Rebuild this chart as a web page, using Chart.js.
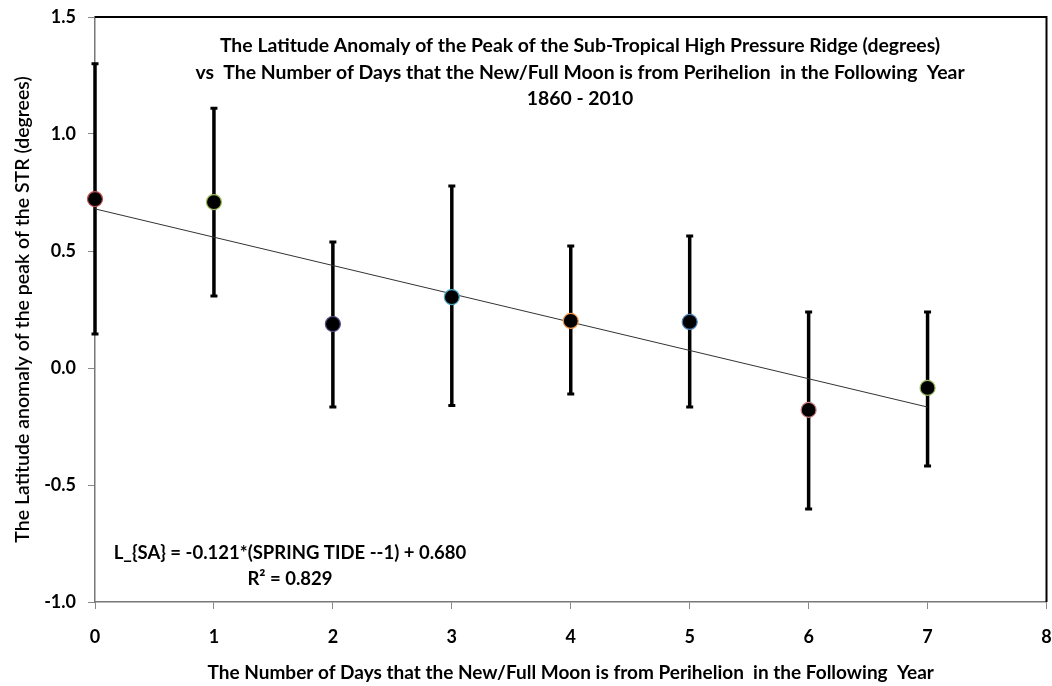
<!DOCTYPE html>
<html><head><meta charset="utf-8">
<script src="https://cdn.jsdelivr.net/npm/chart.js@4.4.1/dist/chart.umd.min.js"></script>
<style>html,body{margin:0;padding:0;background:#fff}#wrap{width:1052px;height:686px}</style>
</head><body><div id="wrap"><canvas id="c" width="1052" height="686"></canvas></div>
<script>
const days = [0, 1, 2, 3, 4, 5, 6, 7];
const anomaly = [0.722, 0.709, 0.188, 0.303, 0.201, 0.197, -0.179, -0.085];
const errUpper = [1.30, 1.11, 0.538, 0.778, 0.521, 0.564, 0.239, 0.239];
const errLower = [0.145, 0.308, -0.167, -0.160, -0.111, -0.167, -0.603, -0.419];
const pointBorders = ['#c0504d', '#9bbb59', '#5a4a8a', '#4bacc6', '#f79646', '#4f81bd', '#d08080', '#9bbb59'];
const trendX = [0, 7];
const trendY = [0.680, -0.167];
const yTicks = [-1.0, -0.5, 0.0, 0.5, 1.0, 1.5];
const xTicks = [0, 1, 2, 3, 4, 5, 6, 7, 8];
const titleLines = [
  'The Latitude Anomaly of the Peak of the Sub-Tropical High Pressure Ridge (degrees)',
  'vs  The Number of Days that the New/Full Moon is from Perihelion  in the Following  Year',
  '1860 - 2010'
];
const eqLines = ['L_{SA} = -0.121*(SPRING TIDE --1) + 0.680', 'R² = 0.829'];
const xTitle = 'The Number of Days that the New/Full Moon is from Perihelion  in the Following  Year';
const yTitle = 'The Latitude anomaly of the peak of the STR (degrees)';

const FONT = 'Lato, "Open Sans", sans-serif';
const zeroPad = () => ({left: 0, right: 0, top: 0, bottom: 0});

const overlay = {
  id: 'overlay',
  beforeDatasetsDraw(chart) {
    const {ctx, scales: {x, y}} = chart;
    ctx.save();
    ctx.strokeStyle = '#000';
    ctx.lineCap = 'butt';
    days.forEach((d, i) => {
      const px = x.getPixelForValue(d);
      const pt = y.getPixelForValue(errUpper[i]);
      const pb = y.getPixelForValue(errLower[i]);
      ctx.lineWidth = 3.5;
      ctx.beginPath(); ctx.moveTo(px, pt); ctx.lineTo(px, pb); ctx.stroke();
      ctx.lineWidth = 3;
      ctx.beginPath(); ctx.moveTo(px - 3.5, pt); ctx.lineTo(px + 3.5, pt);
      ctx.moveTo(px - 3.5, pb); ctx.lineTo(px + 3.5, pb); ctx.stroke();
    });
    ctx.restore();
  },
  afterDraw(chart) {
    const {ctx, chartArea: a} = chart;
    ctx.save();
    ctx.strokeStyle = '#000';
    ctx.lineWidth = 2;
    ctx.beginPath();
    ctx.moveTo(a.left, a.top); ctx.lineTo(a.right, a.top); ctx.lineTo(a.right, a.bottom);
    ctx.stroke();
    ctx.fillStyle = '#000';
    ctx.textAlign = 'center';
    ctx.textBaseline = 'middle';
    ctx.font = 'bold 19.4px ' + FONT;
    const tx = 580;
    [46, 73, 99].forEach((yy, i) => ctx.fillText(titleLines[i], tx, yy));
    ctx.font = 'bold 18.5px ' + FONT;
    ctx.fillText(eqLines[0], 290, 553);
    ctx.fillText(eqLines[1], 290, 579);
    ctx.restore();
  }
};

new Chart(document.getElementById('c'), {
  type: 'scatter',
  data: {
    datasets: [
      {
        type: 'line',
        label: 'trend',
        data: trendX.map((v, i) => ({x: v, y: trendY[i]})),
        borderColor: '#333',
        borderWidth: 1,
        pointRadius: 0,
        fill: false,
        order: 2
      },
      {
        label: 'anomaly',
        data: days.map((d, i) => ({x: d, y: anomaly[i]})),
        backgroundColor: '#000',
        borderColor: pointBorders,
        borderWidth: 1.2,
        pointRadius: 7.5,
        clip: false,
        order: 1
      }
    ]
  },
  plugins: [overlay],
  options: {
    responsive: false,
    animation: false,
    layout: {autoPadding: false, padding: {top: 17, right: 5.5, left: 0, bottom: 0}},
    plugins: {legend: {display: false}, tooltip: {enabled: false}},
    scales: {
      x: {
        type: 'linear', min: 0, max: 8,
        afterBuildTicks(s) { s.ticks = xTicks.map(v => ({value: v})); },
        afterFit(s) { s.height = 84; s.paddingLeft = 0; s.paddingRight = 0; s.getPadding = zeroPad; },
        grid: {drawOnChartArea: false, drawTicks: true, tickLength: 7, color: '#888'},
        border: {color: '#777', width: 1.5},
        ticks: {color: '#000', font: {family: FONT, size: 18, weight: 'bold'}, padding: 17},
        title: {display: true, text: xTitle, color: '#000', font: {family: FONT, size: 19, weight: 'bold'}, padding: {top: 0, bottom: 2}}
      },
      y: {
        type: 'linear', min: -1, max: 1.5,
        afterBuildTicks(s) { s.ticks = yTicks.map(v => ({value: v})); },
        afterFit(s) { s.width = 95; s.paddingTop = 0; s.paddingBottom = 0; s.getPadding = zeroPad; },
        grid: {drawOnChartArea: false, drawTicks: true, tickLength: 7, color: '#888'},
        border: {color: '#777', width: 1.5},
        ticks: {color: '#000', font: {family: FONT, size: 18, weight: 'bold'}, padding: 12,
          callback: v => v.toFixed(1)},
        title: {display: true, text: yTitle, color: '#000', font: {family: FONT, size: 19.5, weight: '600'}, padding: {top: 11, bottom: 0}}
      }
    }
  }
});
</script></body></html>
